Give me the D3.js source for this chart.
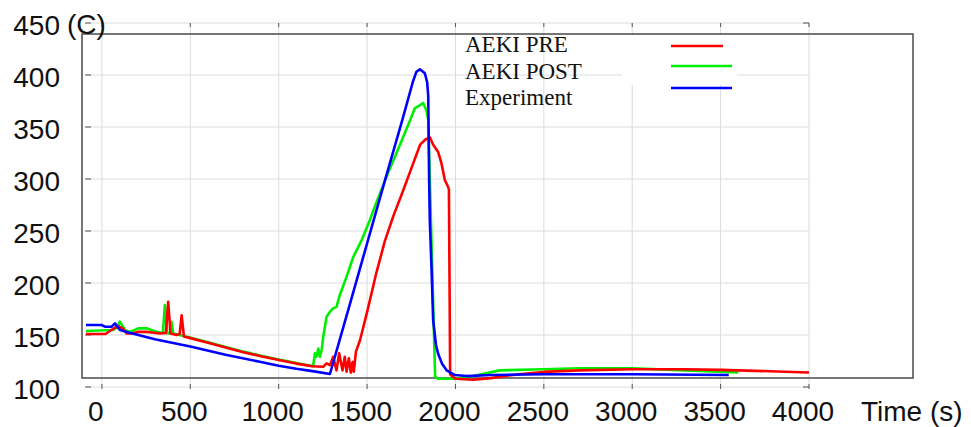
<html lang="en">
<head>
<meta charset="utf-8">
<title>Temperature vs time</title>
<script src="https://d3js.org/d3.v7.min.js"></script>
<style>
  body { margin: 0; background: #fff; }
  .tick-label { font-family: "Liberation Sans", Arial, sans-serif; font-size: 28px; fill: #111; }
  .legend-text { font-family: "Liberation Serif", "Times New Roman", serif; font-size: 23px; fill: #111; }
</style>
</head>
<body>
<script>
// x ticks (time, s) and y ticks (temperature, C)
var xTicks = [0, 500, 1000, 1500, 2000, 2500, 3000, 3500, 4000];
var yTicks = [100, 150, 200, 250, 300, 350, 400, 450];

// AEKI PRE
var preT = [-90, 20, 64, 92, 120, 140, 168, 206, 253, 328, 362, 375, 388, 422, 440, 451, 464, 500, 600, 700, 800, 900, 1000, 1100, 1190, 1252, 1271, 1290, 1308, 1327, 1342, 1361, 1374, 1384, 1397, 1408, 1418, 1425, 1437, 1460, 1500, 1550, 1600, 1650, 1700, 1750, 1800, 1830, 1855, 1874, 1902, 1921, 1940, 1959, 1963, 1970, 2000, 2100, 2200, 2300, 2400, 2500, 2700, 3000, 3300, 3500, 3700, 4000];
var preV = [151, 151, 156, 158.5, 156, 151.5, 151.5, 153, 153, 151.5, 152, 182, 151.5, 150, 151, 169, 148.5, 147, 142.5, 138, 133.5, 129.5, 126, 122.5, 120, 119.5, 122.8, 121, 129, 116, 132.4, 116, 129, 114.7, 127.6, 113.8, 124, 114.7, 134, 145, 172, 208, 240, 265, 287, 310, 333, 338, 340, 333, 326, 315, 299, 292, 290, 112, 108, 107, 108.5, 111, 113, 114.5, 116, 117, 117, 116.5, 115.5, 114];

// AEKI POST
var postT = [-90, 64, 85, 102, 130, 158, 206, 253, 310, 345, 356, 370, 385, 394, 403, 498, 600, 700, 800, 900, 1000, 1100, 1195, 1205, 1214, 1224, 1233, 1243, 1252, 1271, 1290, 1308, 1327, 1346, 1384, 1422, 1469, 1516, 1554, 1612, 1686, 1740, 1770, 1800, 1817, 1836, 1846, 1885, 1900, 2000, 2100, 2250, 2500, 2700, 3000, 3300, 3600];
var postV = [153.8, 154.8, 157, 162.8, 154.8, 153, 156.4, 156.4, 153, 152, 178.8, 151.5, 151.5, 162.8, 151.5, 147.5, 143, 138.5, 134, 130, 126.5, 123, 120, 132.4, 129, 137, 129, 135.6, 148, 167.6, 172.4, 175.6, 177, 188.5, 206, 225, 241, 260.6, 278, 303, 333, 355, 368, 371, 373, 366, 357, 110, 108, 108, 110.5, 116, 117, 118, 118, 116, 114];

// Experiment
var expT = [-90, -2, 17, 55, 74, 102, 140, 300, 500, 700, 900, 1000, 1100, 1200, 1290, 1400, 1500, 1600, 1700, 1760, 1779, 1799, 1827, 1840, 1846, 1851, 1855, 1865, 1874, 1890, 1902, 1925, 1950, 1997, 2063, 2200, 2500, 3000, 3546];
var expV = [159.6, 159.6, 158, 158, 161.2, 154.8, 153, 146, 139, 131, 124, 120.5, 117.5, 115, 112.5, 178, 238, 298, 357, 394, 403, 405.5, 401.6, 393, 380, 300, 260, 212, 164, 140, 132, 122, 116, 111.5, 110.5, 111.5, 112.2, 112.2, 111.5];

var series = [
  { name: "AEKI POST", t: postT, v: postV, color: "#00ee00" },
  { name: "AEKI PRE", t: preT, v: preV, color: "#ff0000" },
  { name: "Experiment", t: expT, v: expV, color: "#0000ff" }
];
var legendItems = [
  { name: "AEKI PRE", color: "#ff0000", len: 52 },
  { name: "AEKI POST", color: "#00ee00", len: 61 },
  { name: "Experiment", color: "#0000ff", len: 61 }
];

var width = 971, height = 427;
var svg = d3.select("body").append("svg")
  .attr("width", width)
  .attr("height", height);

svg.append("rect").attr("width", width).attr("height", height).attr("fill", "#fff");

var x = d3.scaleLinear().domain([-90, 4000]).range([86, 809]);
var y = d3.scaleLinear().domain([100, 450]).range([387, 23]);

// grid
var grid = svg.append("g").attr("stroke", "#dcdcdc").attr("stroke-width", 1);
grid.selectAll("line.v").data(xTicks).enter().append("line")
  .attr("x1", d => x(d)).attr("x2", d => x(d))
  .attr("y1", y(450)).attr("y2", y(100));
grid.selectAll("line.h").data(yTicks).enter().append("line")
  .attr("x1", x(-90)).attr("x2", x(4000))
  .attr("y1", d => y(d)).attr("y2", d => y(d));

// frame
svg.append("rect")
  .attr("x", 82).attr("y", 34).attr("width", 831).attr("height", 344)
  .attr("fill", "none").attr("stroke", "#4a4a4a").attr("stroke-width", 1.5);

// small tick marks
var ticks = svg.append("g").attr("stroke", "#555").attr("stroke-width", 1);
ticks.selectAll("line.l").data(yTicks).enter().append("line")
  .attr("x1", x(-90) - 1).attr("x2", x(-90) + 5)
  .attr("y1", d => y(d)).attr("y2", d => y(d));
ticks.selectAll("line.b").data(xTicks).enter().append("line")
  .attr("x1", d => x(d)).attr("x2", d => x(d))
  .attr("y1", y(100) - 3).attr("y2", y(100) + 2);
ticks.selectAll("line.t").data(xTicks).enter().append("line")
  .attr("x1", d => x(d)).attr("x2", d => x(d))
  .attr("y1", y(450)).attr("y2", y(450) + 4);
ticks.selectAll("line.r").data([100, 450]).enter().append("line")
  .attr("x1", x(4000) - 6).attr("x2", x(4000))
  .attr("y1", d => y(d)).attr("y2", d => y(d));

// legend background
svg.append("rect").attr("x", 622).attr("y", 35).attr("width", 115).attr("height", 50).attr("fill", "#fff");

// curves
var line = d3.line().x(d => x(d[0])).y(d => y(d[1]));
svg.selectAll("path.series").data(series).enter().append("path")
  .attr("class", "series")
  .attr("fill", "none")
  .attr("stroke", d => d.color)
  .attr("stroke-width", 2.6)
  .attr("stroke-linejoin", "round")
  .attr("d", d => line(d.t.map((t, i) => [t, d.v[i]])));

// y labels
svg.selectAll("text.ylab").data(yTicks).enter().append("text")
  .attr("class", "tick-label")
  .attr("text-anchor", "end")
  .attr("x", 60)
  .attr("y", d => y(d) + 12)
  .text(d => d);
svg.append("text").attr("class", "tick-label").attr("x", 67).attr("y", y(450) + 11).text("(C)");

// x labels
svg.selectAll("text.xlab").data(xTicks).enter().append("text")
  .attr("class", "tick-label")
  .attr("text-anchor", "middle")
  .attr("x", d => x(d) - 6)
  .attr("y", 421)
  .text(d => d);
svg.append("text").attr("class", "tick-label").attr("x", 861).attr("y", 421).text("Time (s)");

// legend
var lg = svg.append("g");
lg.selectAll("text").data(legendItems).enter().append("text")
  .attr("class", "legend-text")
  .attr("x", 465)
  .attr("y", (d, i) => 52 + i * 26.5)
  .text(d => d.name);
lg.selectAll("line").data(legendItems).enter().append("line")
  .attr("x1", 671).attr("x2", d => 671 + d.len)
  .attr("y1", (d, i) => [46, 66, 88][i]).attr("y2", (d, i) => [46, 66, 88][i])
  .attr("stroke", d => d.color).attr("stroke-width", 2.6);
</script>
</body>
</html>
